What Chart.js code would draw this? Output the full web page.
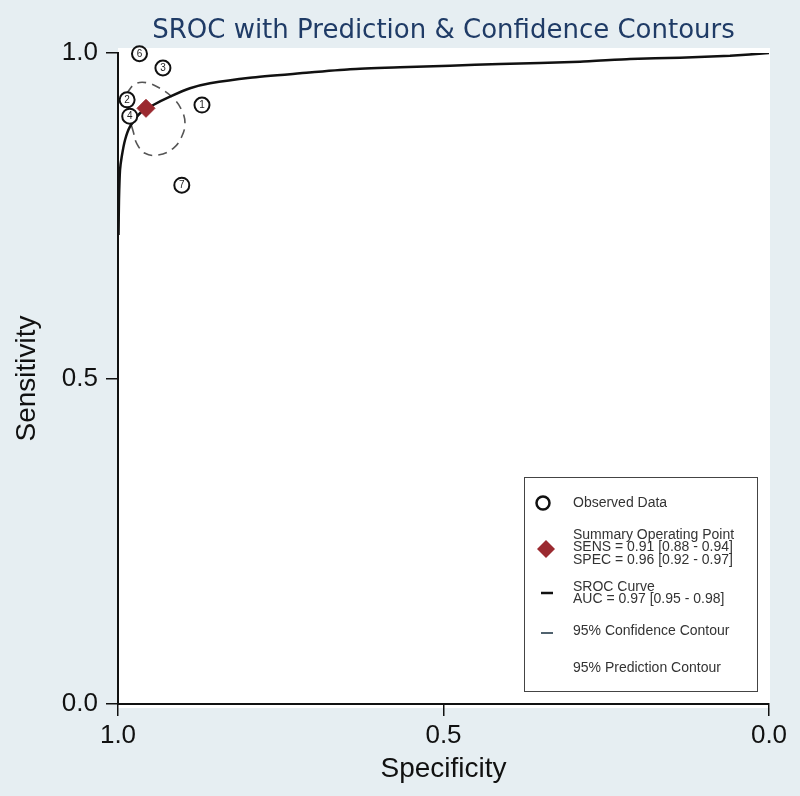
<!DOCTYPE html>
<html>
<head>
<meta charset="utf-8">
<title>SROC with Prediction & Confidence Contours</title>
<script src="https://cdn.jsdelivr.net/npm/chart.js@4"></script>
<style>
  html, body { margin: 0; padding: 0; background: #e6eef2; }
</style>
</head>
<body>
<canvas id="srocChart" width="800" height="796"></canvas>
<script>
// Observed studies (specificity, sensitivity) and their study numbers
const studyLabels = ['1', '2', '3', '4', '6', '7'];
const studySpec = [0.871, 0.986, 0.931, 0.982, 0.967, 0.902];
const studySens = [0.920, 0.928, 0.977, 0.903, 0.999, 0.797];

// Summary operating point
const summarySpec = [0.957];
const summarySens = [0.915];

// SROC curve
const srocSpec = [0.9992, 0.9985, 0.9969, 0.9943, 0.9892, 0.9816, 0.9662, 0.9458, 0.9201, 0.8894, 0.8587,
                  0.7972, 0.7204, 0.6436, 0.5668, 0.4900, 0.4132, 0.2903, 0.2135, 0.1367, 0.0599, 0.0];
const srocSens = [0.7204, 0.7742, 0.8203, 0.8407, 0.8664, 0.8868, 0.9074, 0.9201, 0.9329, 0.9458, 0.9535,
                  0.9621, 0.9688, 0.9750, 0.9780, 0.9805, 0.9831, 0.9866, 0.9908, 0.9928, 0.9959, 1.0];

// 95% confidence contour
const confSpec = [0.9866, 0.9739, 0.9559, 0.9355, 0.9151, 0.9022, 0.8971, 0.9022, 0.9151,
                  0.9381, 0.9585, 0.9713, 0.9765, 0.9816, 0.9857, 0.9866];
const confSens = [0.9381, 0.9524, 0.9544, 0.9458, 0.9304, 0.9124, 0.8920, 0.8714, 0.8536,
                  0.8433, 0.8459, 0.8613, 0.8791, 0.8971, 0.9175, 0.9381];

// Axis ticks and legend texts
const tickValues = [0, 0.5, 1];
const legendTexts = [
    ['Observed Data'],
    ['Summary Operating Point', 'SENS = 0.91 [0.88 - 0.94]', 'SPEC = 0.96 [0.92 - 0.97]'],
    ['SROC Curve', 'AUC = 0.97 [0.95 - 0.98]'],
    ['95% Confidence Contour'],
    ['95% Prediction Contour']
];

const toPoints = (xs, ys) => xs.map((x, i) => ({ x: x, y: ys[i] }));
const FONT = '"Liberation Sans", Arial, sans-serif';

// Background: light graph region, white plot region
const backgroundPlugin = {
    id: 'background',
    beforeDraw(chart) {
        const { ctx, chartArea: a } = chart;
        ctx.save();
        ctx.fillStyle = '#e6eef2';
        ctx.fillRect(0, 0, chart.width, chart.height);
        ctx.fillStyle = '#ffffff';
        ctx.fillRect(a.left, a.top - 5, a.right - a.left + 1, a.bottom - a.top + 9);
        ctx.restore();
    }
};

// Study numbers inside the circles
const studyLabelPlugin = {
    id: 'studyLabels',
    afterDatasetsDraw(chart) {
        const ctx = chart.ctx;
        const meta = chart.getDatasetMeta(2);
        ctx.save();
        ctx.font = '10px ' + FONT;
        ctx.fillStyle = '#222';
        ctx.textAlign = 'center';
        ctx.textBaseline = 'middle';
        meta.data.forEach((el, i) => ctx.fillText(studyLabels[i], el.x, el.y + 0.5));
        ctx.restore();
    }
};

// Legend box in the lower right corner
const legendPlugin = {
    id: 'sideLegend',
    afterDraw(chart) {
        const ctx = chart.ctx;
        ctx.save();
        ctx.strokeStyle = '#444';
        ctx.lineWidth = 1;
        ctx.strokeRect(524.5, 477.5, 233, 214);

        // symbols
        ctx.lineWidth = 2.5;
        ctx.strokeStyle = '#111';
        ctx.beginPath();
        ctx.arc(543, 503, 6.5, 0, Math.PI * 2);
        ctx.stroke();

        ctx.fillStyle = '#9b2a30';
        ctx.beginPath();
        ctx.moveTo(546, 540); ctx.lineTo(555, 549); ctx.lineTo(546, 558); ctx.lineTo(537, 549);
        ctx.closePath();
        ctx.fill();

        ctx.beginPath();
        ctx.moveTo(541, 593); ctx.lineTo(553, 593);
        ctx.stroke();

        ctx.strokeStyle = '#50626e';
        ctx.lineWidth = 2;
        ctx.beginPath();
        ctx.moveTo(541, 633); ctx.lineTo(553, 633);
        ctx.stroke();

        // texts
        ctx.font = '14px ' + FONT;
        ctx.fillStyle = '#333';
        ctx.textAlign = 'left';
        ctx.textBaseline = 'middle';
        const starts = [503, 535, 587, 631, 668];
        legendTexts.forEach((lines, i) => {
            lines.forEach((t, j) => ctx.fillText(t, 573, starts[i] + j * 12.5));
        });
        ctx.restore();
    }
};

const ctx = document.getElementById('srocChart').getContext('2d');
new Chart(ctx, {
    type: 'scatter',
    data: {
        datasets: [
            {
                label: 'Summary Operating Point',
                data: toPoints(summarySpec, summarySens),
                pointStyle: 'rectRot',
                pointRadius: 9,
                backgroundColor: '#9b2a30',
                borderColor: '#9b2a30',
                clip: false,
                order: 0
            },
            {
                label: '95% Confidence Contour',
                data: toPoints(confSpec, confSens),
                showLine: true,
                tension: 0.4,
                borderColor: '#555',
                borderWidth: 1.6,
                borderDash: [9, 6],
                pointRadius: 0,
                order: 3
            },
            {
                label: 'Observed Data',
                data: toPoints(studySpec, studySens),
                pointStyle: 'circle',
                pointRadius: 7.5,
                borderWidth: 2,
                borderColor: '#111',
                backgroundColor: '#ffffff',
                clip: false,
                order: 1
            },
            {
                label: 'SROC Curve',
                data: toPoints(srocSpec, srocSens),
                showLine: true,
                tension: 0.2,
                borderColor: '#111',
                borderWidth: 2.5,
                pointRadius: 0,
                order: 2
            }
        ]
    },
    options: {
        responsive: false,
        animation: false,
        layout: { padding: { left: 0, right: 31, top: 0, bottom: 0 } },
        plugins: {
            legend: { display: false },
            tooltip: { enabled: false },
            title: {
                display: true,
                fullSize: false,
                text: 'SROC with Prediction & Confidence Contours',
                color: '#1f3b66',
                font: { family: '"DejaVu Sans", sans-serif', size: 26, weight: 'normal' },
                padding: { top: 16, bottom: 5.8 }
            }
        },
        scales: {
            x: {
                type: 'linear',
                reverse: true,
                min: 0,
                max: 1,
                afterFit: s => { s.height = 92; },
                afterBuildTicks: s => { s.ticks = tickValues.map(v => ({ value: v })); },
                ticks: {
                    callback: v => v.toFixed(1),
                    color: '#111',
                    font: { family: FONT, size: 26 },
                    padding: 4,
                    maxRotation: 0
                },
                grid: { drawOnChartArea: false, drawTicks: true, tickLength: 12, color: '#111', lineWidth: 1.5 },
                border: { display: true, color: '#111', width: 2 },
                title: {
                    display: true,
                    text: 'Specificity',
                    color: '#111',
                    font: { family: FONT, size: 28 },
                    padding: { top: 0, bottom: 10 }
                }
            },
            y: {
                type: 'linear',
                min: 0,
                max: 1,
                afterFit: s => { s.width = 118; },
                afterBuildTicks: s => { s.ticks = tickValues.map(v => ({ value: v })); },
                ticks: {
                    callback: v => v.toFixed(1),
                    color: '#111',
                    font: { family: FONT, size: 26 },
                    padding: 8
                },
                grid: { drawOnChartArea: false, drawTicks: true, tickLength: 12, color: '#111', lineWidth: 1.5 },
                border: { display: true, color: '#111', width: 2 },
                title: {
                    display: true,
                    text: 'Sensitivity',
                    color: '#111',
                    font: { family: FONT, size: 28 },
                    padding: { top: 10, bottom: 0 }
                }
            }
        }
    },
    plugins: [backgroundPlugin, studyLabelPlugin, legendPlugin]
});
</script>
</body>
</html>
